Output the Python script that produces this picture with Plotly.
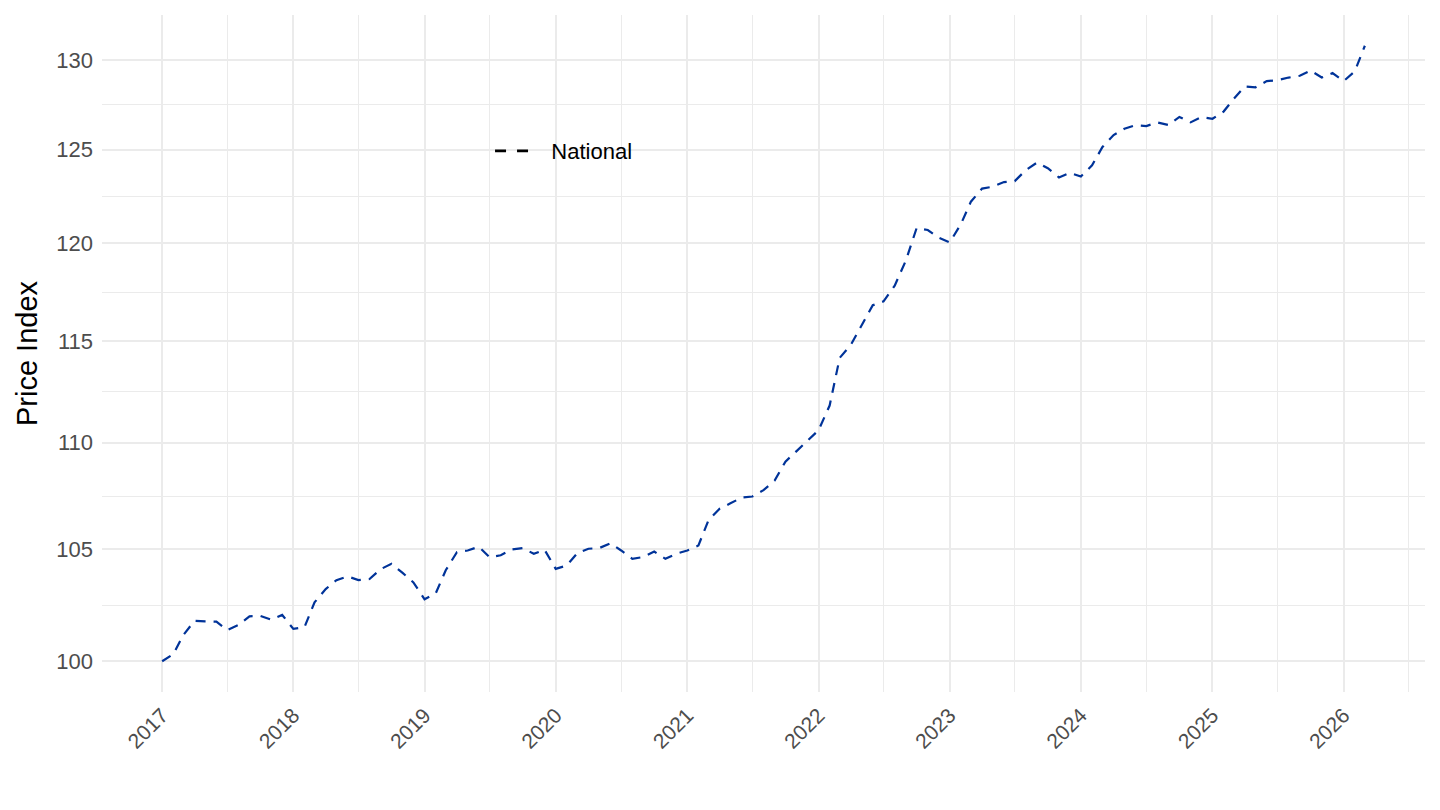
import numpy as np
import pandas as pd
import plotly.graph_objects as go

# ---- data (monthly price index, Jan 2017 = 100) ----
start_month = "2017-01-01"
idx_2017 = [100.0, 100.31, 101.15, 101.78, 101.75, 101.74, 101.37, 101.59, 101.98, 102.0, 101.83, 102.04]
idx_2018 = [101.42, 101.5, 102.6, 103.2, 103.6, 103.77, 103.6, 103.65, 104.1, 104.34, 103.93, 103.5]
idx_2019 = [102.74, 103.0, 104.05, 104.87, 104.95, 105.12, 104.64, 104.73, 105.0, 105.06, 104.8, 104.98]
idx_2020 = [104.11, 104.27, 104.83, 105.03, 105.06, 105.28, 104.95, 104.57, 104.65, 104.9, 104.57, 104.8]
idx_2021 = [104.95, 105.18, 106.35, 106.88, 107.13, 107.4, 107.45, 107.75, 108.2, 109.1, 109.6, 110.1]
idx_2022 = [110.6, 111.8, 114.15, 114.8, 115.8, 116.8, 117.0, 117.8, 119.1, 120.8, 120.7, 120.3]
idx_2023 = [120.05, 121.0, 122.2, 122.9, 123.0, 123.25, 123.3, 123.9, 124.3, 124.0, 123.5, 123.75]
idx_2024 = [123.55, 124.15, 125.15, 125.8, 126.15, 126.35, 126.3, 126.5, 126.35, 126.8, 126.5, 126.8]
idx_2025 = [126.7, 127.1, 127.8, 128.5, 128.45, 128.8, 128.85, 129.0, 129.1, 129.4, 129.0, 129.25]
idx_2026 = [128.8, 129.35, 130.8]

series_name = "National"
y_ticks = [100, 105, 110, 115, 120, 125, 130]
x_tick_years = [2017, 2018, 2019, 2020, 2021, 2022, 2023, 2024, 2025, 2026]

values = (idx_2017 + idx_2018 + idx_2019 + idx_2020 + idx_2021 + idx_2022
          + idx_2023 + idx_2024 + idx_2025 + idx_2026)
dates = pd.date_range(start_month, periods=len(values), freq="MS")

# ---- scales (ggplot-like 5% expansion) ----
span = dates[-1] - dates[0]
x_range = [dates[0] - 0.05 * span, dates[-1] + 0.05 * span]
lmin, lmax = np.log10(min(values)), np.log10(max(values))
pad = 0.05 * (lmax - lmin)
y_range = [lmin - pad, lmax + pad]

y_minor = [float(np.sqrt(a * b)) for a, b in zip(y_ticks[:-1], y_ticks[1:])]
x_major = [pd.Timestamp(f"{y}-01-01") for y in x_tick_years]
x_minor = [pd.Timestamp(f"{y}-07-01") for y in [x_tick_years[0] - 1] + x_tick_years]

GRID = "#EBEBEB"
LINE_COLOR = "#003399"
FONT = "Liberation Sans, Arial, sans-serif"

fig = go.Figure()
fig.add_trace(go.Scatter(
    x=dates, y=values, mode="lines", name=series_name, showlegend=False,
    line=dict(color=LINE_COLOR, width=2.2, dash="10px,8px"),
))
# legend key (ggplot draws the key in black)
fig.add_trace(go.Scatter(
    x=[None], y=[None], mode="lines", name="\u00a0\u00a0\u00a0" + series_name, showlegend=True,
    line=dict(color="black", width=2.6, dash="11px,11px"),
))

fig.update_layout(
    width=1440, height=810,
    margin=dict(l=94, r=23, t=7, b=126),
    paper_bgcolor="white", plot_bgcolor="white",
    font=dict(family=FONT, size=22, color="black"),
    showlegend=True,
    legend=dict(x=0.2933, y=0.799, xanchor="left", yanchor="middle",
                bgcolor="rgba(0,0,0,0)", borderwidth=0, itemwidth=33,
                font=dict(size=22, color="black")),
    xaxis=dict(
        type="date", range=x_range, automargin=False,
        tickmode="array", tickvals=x_major, ticktext=[str(y) for y in x_tick_years],
        tickangle=-45, tickfont=dict(size=21, color="#4D4D4D"),
        showgrid=True, gridcolor=GRID, gridwidth=2,
        minor=dict(tickmode="array", tickvals=x_minor, showgrid=True,
                   gridcolor=GRID, gridwidth=1, ticks=""),
        zeroline=False, showline=False, ticks="", ticklabelstandoff=6,
    ),
    yaxis=dict(
        type="log", range=y_range, automargin=False,
        tickmode="array", tickvals=y_ticks, ticktext=[str(v) for v in y_ticks],
        tickfont=dict(size=22, color="#4D4D4D"),
        showgrid=True, gridcolor=GRID, gridwidth=2,
        minor=dict(tickmode="array", tickvals=y_minor, showgrid=True,
                   gridcolor=GRID, gridwidth=1, ticks=""),
        zeroline=False, showline=False, ticks="", ticklabelstandoff=8,
        title=dict(text="Price Index", font=dict(size=29, color="black"), standoff=10),
    ),
)

fig.write_html("out.html")
